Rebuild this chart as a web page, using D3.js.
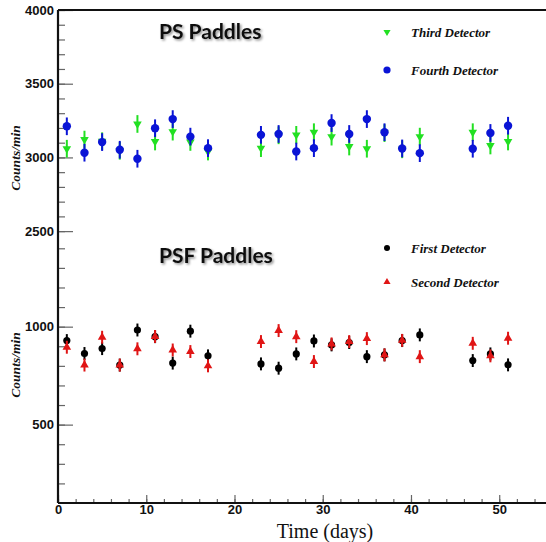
<!DOCTYPE html>
<html>
<head>
<meta charset="utf-8">
<script src="https://cdn.jsdelivr.net/npm/d3@7"></script>
<style>
    html, body { margin: 0; padding: 0; background: #fff; }
    svg { display: block; }
</style>
</head>
<body>
<svg id="chart" width="546" height="542"></svg>
<script>
// Measurement days (odd days, with a gap around day 19-21 and 43-45)
const days = [1, 3, 5, 7, 9, 11, 13, 15, 17, 23, 25, 27, 29, 31, 33, 35, 37, 39, 41, 47, 49, 51];

// PS paddles (counts/min)
const thirdDetector  = [3059, 3121, 3110, 3045, 3227, 3108, 3175, 3105, 3040, 3063, 3150, 3153, 3171, 3141, 3074, 3059, 3165, 3055, 3141, 3171, 3081, 3108];
const fourthDetector = [3211, 3032, 3104, 3052, 2991, 3198, 3260, 3141, 3063, 3153, 3159, 3040, 3063, 3233, 3159, 3260, 3171, 3061, 3029, 3059, 3166, 3215];

// PSF paddles (counts/min)
const firstDetector  = [929, 863, 888, 804, 983, 949, 814, 977, 851, 810, 788, 861, 927, 907, 919, 847, 856, 929, 958, 827, 861, 805];
const secondDetector = [895, 804, 946, 804, 887, 950, 881, 873, 800, 924, 980, 949, 822, 912, 924, 939, 856, 930, 847, 915, 851, 941];

// statistical errors (counts/min)
const psError = 60;
const psfError = 33;

// axis ticks
const xMajorTicks = [0, 10, 20, 30, 40, 50];
const xMinorTicks = d3.range(0, 56, 2);
const yMajorTicks = [500, 1000, 2500, 3000, 3500, 4000];
const yMinorTicks = d3.range(200, 1500, 100).concat(d3.range(2500, 4001, 100));

const series = [
    { name: 'Third Detector',  values: thirdDetector,  err: psError,  color: '#22e022', shape: 'down',   r: 0 },
    { name: 'Fourth Detector', values: fourthDetector, err: psError,  color: '#0a14d6', shape: 'circle', r: 4.2 },
    { name: 'First Detector',  values: firstDetector,  err: psfError, color: '#000000', shape: 'circle', r: 3.6 },
    { name: 'Second Detector', values: secondDetector, err: psfError, color: '#e01515', shape: 'up',     r: 0 }
];

const svg = d3.select('#chart');

// Broken y axis: two linear pieces glued at y ~ 238
const x = d3.scaleLinear().domain([0, 55.3]).range([58, 546]);
const y = d3.scaleLinear().domain([100, 1450, 2450, 4000]).range([503, 238.5, 238.5, 10]);

// drop shadow for the panel titles
const defs = svg.append('defs');
const shadow = defs.append('filter').attr('id', 'shadow')
    .attr('x', '-10%').attr('y', '-20%').attr('width', '130%').attr('height', '160%');
shadow.append('feDropShadow')
    .attr('dx', 1.5).attr('dy', 1.5).attr('stdDeviation', 1)
    .attr('flood-color', '#000').attr('flood-opacity', 0.45);

const tickColor = '#666';

// --- y axis ---
const yMinor = svg.append('g').attr('transform', `translate(${x(0)},0)`)
    .call(d3.axisLeft(y).tickValues(yMinorTicks).tickSize(-7).tickFormat(''));
const yMajor = svg.append('g').attr('transform', `translate(${x(0)},0)`)
    .call(d3.axisLeft(y).tickValues(yMajorTicks).tickSize(-15).tickPadding(4).tickFormat(d3.format('d')));

// --- x axis ---
const xMinor = svg.append('g').attr('transform', `translate(0,${y(100)})`)
    .call(d3.axisBottom(x).tickValues(xMinorTicks).tickSize(-4).tickFormat(''));
const xMajor = svg.append('g').attr('transform', `translate(0,${y(100)})`)
    .call(d3.axisBottom(x).tickValues(xMajorTicks).tickSize(-8).tickPadding(2).tickFormat(d3.format('d')));

[yMinor, yMajor, xMinor, xMajor].forEach(g => {
    g.select('.domain').remove();
    g.selectAll('line').attr('stroke', tickColor).attr('stroke-width', 1.2);
    g.selectAll('text')
        .attr('fill', '#111')
        .style('font-family', '"Liberation Sans", Arial, sans-serif')
        .style('font-weight', 'bold')
        .style('font-size', '13px');
});

// frame lines: left axis, bottom axis, top border
svg.append('line')
    .attr('x1', x(0)).attr('x2', x(0)).attr('y1', y(4000)).attr('y2', y(100))
    .attr('stroke', '#111').attr('stroke-width', 2.2);
svg.append('line')
    .attr('x1', x(0)).attr('x2', 546).attr('y1', y(100)).attr('y2', y(100))
    .attr('stroke', '#111').attr('stroke-width', 2.2);
svg.append('line')
    .attr('x1', x(0)).attr('x2', 546).attr('y1', y(4000)).attr('y2', y(4000))
    .attr('stroke', '#111').attr('stroke-width', 2.2);

// --- data: error bars + markers ---
const trianglePath = size => d3.symbol().type(d3.symbolTriangle).size(size)();

series.forEach(s => {
    const pts = days.map((d, i) => ({ day: d, value: s.values[i] }));
    const g = svg.append('g').attr('class', 'series');

    g.selectAll('.err')
        .data(pts)
        .enter()
        .append('line')
        .attr('class', 'err')
        .attr('x1', d => x(d.day))
        .attr('x2', d => x(d.day))
        .attr('y1', d => y(d.value - s.err))
        .attr('y2', d => y(d.value + s.err))
        .attr('stroke', s.color)
        .attr('stroke-width', 2);

    if (s.shape === 'circle') {
        g.selectAll('.mk')
            .data(pts)
            .enter()
            .append('circle')
            .attr('class', 'mk')
            .attr('cx', d => x(d.day))
            .attr('cy', d => y(d.value))
            .attr('r', s.r)
            .attr('fill', s.color);
    } else {
        const rot = s.shape === 'down' ? 180 : 0;
        g.selectAll('.mk')
            .data(pts)
            .enter()
            .append('path')
            .attr('class', 'mk')
            .attr('d', trianglePath(32))
            .attr('transform', d => `translate(${x(d.day)},${y(d.value)}) rotate(${rot})`)
            .attr('fill', s.color);
    }
});

// --- legends ---
const legendItems = [
    { s: series[0], ly: 32 },
    { s: series[1], ly: 70 },
    { s: series[2], ly: 248 },
    { s: series[3], ly: 282 }
];
legendItems.forEach(({ s, ly }) => {
    const lx = 387;
    if (s.shape === 'circle') {
        svg.append('circle').attr('cx', lx).attr('cy', ly).attr('r', s.r - 0.6).attr('fill', s.color);
    } else {
        svg.append('path')
            .attr('d', trianglePath(22))
            .attr('transform', `translate(${lx},${ly}) rotate(${s.shape === 'down' ? 180 : 0})`)
            .attr('fill', s.color);
    }
    svg.append('text')
        .attr('x', 411).attr('y', ly)
        .attr('dy', '0.35em')
        .style('font-family', '"Liberation Serif", "Times New Roman", serif')
        .style('font-style', 'italic')
        .style('font-weight', 'bold')
        .style('font-size', '13px')
        .attr('fill', '#111')
        .text(s.name);
});

// --- panel titles ---
const titles = [
    { text: 'PS Paddles', ty: 39 },
    { text: 'PSF Paddles', ty: 263 }
];
titles.forEach(t => {
    svg.append('text')
        .attr('x', 159).attr('y', t.ty)
        .attr('filter', 'url(#shadow)')
        .style('font-family', 'Lato, "Open Sans", sans-serif')
        .style('font-weight', 'bold')
        .style('font-size', '21px')
        .attr('fill', '#111')
        .text(t.text);
});

// --- axis titles ---
[158, 365].forEach(cy => {
    svg.append('text')
        .attr('transform', `translate(20,${cy}) rotate(-90)`)
        .attr('text-anchor', 'middle')
        .style('font-family', '"Liberation Serif", "Times New Roman", serif')
        .style('font-style', 'italic')
        .style('font-weight', 'bold')
        .style('font-size', '13.5px')
        .attr('fill', '#111')
        .text('Counts/min');
});

svg.append('text')
    .attr('x', 325).attr('y', 538)
    .attr('text-anchor', 'middle')
    .style('font-family', '"Liberation Serif", "Times New Roman", serif')
    .style('font-size', '20px')
    .attr('fill', '#111')
    .text('Time (days)');
</script>
</body>
</html>
